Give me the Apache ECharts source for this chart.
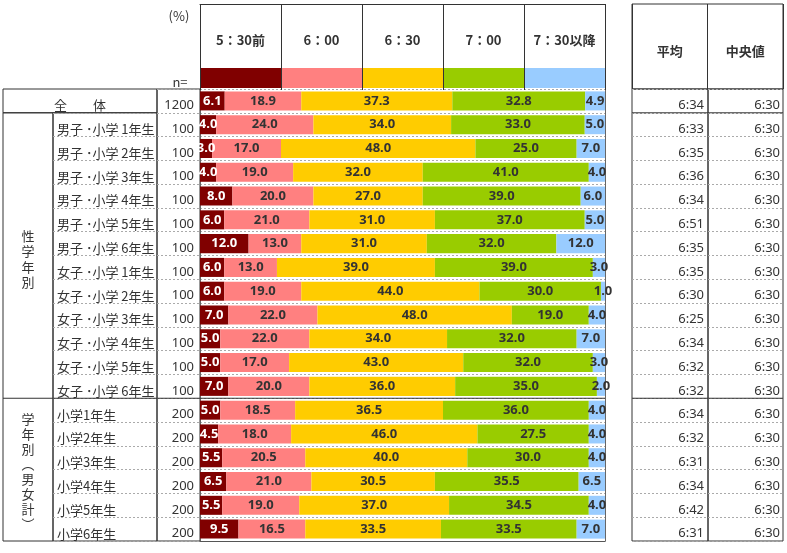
<!DOCTYPE html>
<html>
<head>
<meta charset="utf-8">
<script src="https://cdn.jsdelivr.net/npm/echarts@6/dist/echarts.min.js"></script>
<style>
html, body { margin: 0; padding: 0; background: #fff; }
#main { width: 787px; height: 553px; }
</style>
</head>
<body>
<div id="main"></div>
<script>
// 行ラベル・n・各時刻の割合(%)
var rowLabels = ['全　　体',
	'男子 ･小学 1年生', '男子 ･小学 2年生', '男子 ･小学 3年生', '男子 ･小学 4年生', '男子 ･小学 5年生', '男子 ･小学 6年生',
	'女子 ･小学 1年生', '女子 ･小学 2年生', '女子 ･小学 3年生', '女子 ･小学 4年生', '女子 ･小学 5年生', '女子 ･小学 6年生',
	'小学1年生', '小学2年生', '小学3年生', '小学4年生', '小学5年生', '小学6年生'];
var nCounts = [1200, 100, 100, 100, 100, 100, 100, 100, 100, 100, 100, 100, 100, 200, 200, 200, 200, 200, 200];
var timeCats = ['5：30前', '6：00', '6：30', '7：00', '7：30以降'];
var before530 = [6.1, 4.0, 3.0, 4.0, 8.0, 6.0, 12.0, 6.0, 6.0, 7.0, 5.0, 5.0, 7.0, 5.0, 4.5, 5.5, 6.5, 5.5, 9.5];
var at600 = [18.9, 24.0, 17.0, 19.0, 20.0, 21.0, 13.0, 13.0, 19.0, 22.0, 22.0, 17.0, 20.0, 18.5, 18.0, 20.5, 21.0, 19.0, 16.5];
var at630 = [37.3, 34.0, 48.0, 32.0, 27.0, 31.0, 31.0, 39.0, 44.0, 48.0, 34.0, 43.0, 36.0, 36.5, 46.0, 40.0, 30.5, 37.0, 33.5];
var at700 = [32.8, 33.0, 25.0, 41.0, 39.0, 37.0, 32.0, 39.0, 30.0, 19.0, 32.0, 32.0, 35.0, 36.0, 27.5, 30.0, 35.5, 34.5, 33.5];
var after730 = [4.9, 5.0, 7.0, 4.0, 6.0, 5.0, 12.0, 3.0, 1.0, 4.0, 7.0, 3.0, 2.0, 4.0, 4.0, 4.0, 6.5, 4.0, 7.0];
var statCats = ['平均', '中央値'];
var avgTimes = ['6:34', '6:33', '6:35', '6:36', '6:34', '6:51', '6:35', '6:35', '6:30', '6:25', '6:34', '6:32', '6:32', '6:34', '6:32', '6:31', '6:34', '6:42', '6:31'];
var medianTimes = ['6:30', '6:30', '6:30', '6:30', '6:30', '6:30', '6:30', '6:30', '6:30', '6:30', '6:30', '6:30', '6:30', '6:30', '6:30', '6:30', '6:30', '6:30', '6:30'];
var groupLabels = ['性\n学\n年\n別', '学\n年\n別\n︵\n男\n女\n計\n︶'];
var colors = ['#800000', '#FF8080', '#FFCC00', '#99CC00', '#99CCFF'];

var myChart = echarts.init(document.getElementById('main'));

var TOP = 89, BOTTOM = 541;
var ROWH = (BOTTOM - TOP) / rowLabels.length;
var CJK = '"Noto Sans CJK JP", sans-serif';
var LAT = '"Noto Sans", sans-serif';
var dash = { color: '#aaa', type: [2, 2], width: 1 };
var border = { show: true, borderColor: '#333', borderWidth: 1, backgroundColor: 'transparent' };

function grid(l, t, w, h, withBorder) {
	var g = { left: l, top: t, width: w, height: h, outerBoundsMode: 'none' };
	if (withBorder) {
		g = Object.assign({}, border, g);
	}
	return g;
}
function hiddenValue(i) {
	return { type: 'value', gridIndex: i, min: 0, max: 100, show: false };
}
// 表のセル用の軸ラベル（文字は行の中央より少し下に置く）
function cellLabel(opt) {
	return Object.assign({
		show: true, inside: true, interval: 0, color: '#333',
		fontFamily: CJK, fontSize: 13, verticalAlign: 'top', lineHeight: 9
	}, opt);
}

var bodyH = BOTTOM - TOP;
var grids = [
	grid(200, 4, 405, 86, false),                // 0 見出し（仕切り線は色帯の下まで）
	grid(200, TOP, 405, bodyH, false),           // 1 帯グラフ
	grid(3, TOP, 154, ROWH, true),               // 2 全体
	grid(3, TOP + ROWH, 50, bodyH - ROWH, true), // 3 区分
	grid(53, TOP + ROWH, 104, bodyH - ROWH, true), // 4 行ラベル
	grid(157, TOP, 43, bodyH, true),             // 5 n
	grid(632, 4, 151, TOP - 4, true),            // 6 平均/中央値 見出し
	grid(632, TOP, 76, bodyH, true),             // 7 平均
	grid(708, TOP, 75, bodyH, true)              // 8 中央値
];

var xAxes = [
	{
		type: 'category', gridIndex: 0, data: timeCats, position: 'bottom', z: 5,
		axisLine: { show: false }, axisTick: { show: false },
		axisLabel: { inside: true, margin: 50, verticalAlign: 'middle', interval: 0,
			fontFamily: CJK, fontSize: 13, fontWeight: 'bold', color: '#333' },
		splitLine: { show: true, interval: 0, lineStyle: { color: '#333' } }
	},
	{
		type: 'value', gridIndex: 1, min: 0, max: 100,
		axisLine: { show: true, lineStyle: { color: '#555' } },
		axisTick: { show: false }, axisLabel: { show: false }, splitLine: { show: false }
	},
	hiddenValue(2), hiddenValue(3), hiddenValue(4), hiddenValue(5),
	{
		type: 'category', gridIndex: 6, data: statCats, position: 'bottom',
		axisLine: { show: false }, axisTick: { show: false },
		axisLabel: { inside: true, margin: 38, verticalAlign: 'middle', interval: 0,
			fontFamily: CJK, fontSize: 13, fontWeight: 'bold', color: '#333' },
		splitLine: { show: true, interval: 0, lineStyle: { color: '#333' } }
	},
	hiddenValue(7), hiddenValue(8),
	{
		// 見出しの上枠
		type: 'category', gridIndex: 0, data: timeCats, position: 'top',
		axisLine: { show: true, lineStyle: { color: '#333' } }, axisTick: { show: false },
		axisLabel: { show: false }, splitLine: { show: false }
	}
];

var yAxes = [
	{ type: 'value', gridIndex: 0, show: false },
	{
		type: 'category', gridIndex: 1, data: rowLabels, inverse: true,
		axisLine: { show: true, lineStyle: { color: '#666' } }, axisTick: { show: false },
		axisLabel: { show: false }, splitLine: { show: true, interval: 0, lineStyle: dash }
	},
	{
		type: 'category', gridIndex: 1, data: rowLabels, inverse: true, position: 'right',
		axisLine: { show: true, lineStyle: { color: '#666' } }, axisTick: { show: false },
		axisLabel: { show: false }, splitLine: { show: false }
	},
	{
		type: 'category', gridIndex: 2, data: rowLabels.slice(0, 1),
		axisLine: { show: false }, axisTick: { show: false },
		axisLabel: cellLabel({ margin: 77, align: 'center' })
	},
	{ type: 'category', gridIndex: 3, data: rowLabels.slice(1), inverse: true, show: false },
	{
		type: 'category', gridIndex: 4, data: rowLabels.slice(1), inverse: true,
		axisLine: { show: false }, axisTick: { show: false },
		axisLabel: cellLabel({ margin: 4, align: 'left' }),
		splitLine: { show: true, interval: 0, lineStyle: dash }
	},
	{
		type: 'category', gridIndex: 5, data: rowLabels, inverse: true, position: 'right',
		axisLine: { show: false }, axisTick: { show: false },
		axisLabel: cellLabel({ margin: 6, fontFamily: LAT, formatter: function(v, i) { return String(nCounts[i]); } }),
		splitLine: { show: true, interval: 0, lineStyle: dash }
	},
	{ type: 'value', gridIndex: 6, show: false },
	{
		type: 'category', gridIndex: 7, data: rowLabels, inverse: true, position: 'right',
		axisLine: { show: false }, axisTick: { show: false },
		axisLabel: cellLabel({ margin: 4, fontFamily: LAT, formatter: function(v, i) { return avgTimes[i]; } }),
		splitLine: { show: true, interval: 0, lineStyle: dash }
	},
	{
		type: 'category', gridIndex: 8, data: rowLabels, inverse: true, position: 'right',
		axisLine: { show: false }, axisTick: { show: false },
		axisLabel: cellLabel({ margin: 3, fontFamily: LAT, formatter: function(v, i) { return medianTimes[i]; } }),
		splitLine: { show: true, interval: 0, lineStyle: dash }
	}
];

var seriesData = [before530, at600, at630, at700, after730];
var series = seriesData.map(function(d, k) {
	return {
		name: timeCats[k], type: 'bar', stack: 'total',
		xAxisIndex: 1, yAxisIndex: 1, barWidth: '80%',
		itemStyle: { color: colors[k] },
		silent: true, emphasis: { disabled: true },
		label: {
			show: true, position: 'inside',
			color: k === 0 ? '#fff' : '#333',
			fontFamily: LAT, fontSize: 13, fontWeight: 'bold',
			textBorderWidth: 0,
			formatter: function(p) { return p.value.toFixed(1); }
		},
		data: d
	};
});

var y1 = TOP + ROWH, y13 = TOP + 13 * ROWH;
function hline(x1, x2, y, color) {
	return { type: 'line', z: 100, shape: { x1: x1, y1: y, x2: x2, y2: y }, style: { stroke: color || '#333', lineWidth: 1 } };
}
function txt(x, y, s, extra) {
	return { type: 'text', z: 100, style: Object.assign({ x: x, y: y, text: s, fill: '#333',
		fontFamily: CJK, fontSize: 13, align: 'center', verticalAlign: 'middle' }, extra) };
}

var Option = {
	animation: false,
	backgroundColor: '#fff',
	grid: grids,
	xAxis: xAxes,
	yAxis: yAxes,
	legend: {
		left: 200, top: 68, padding: 0, z: 1,
		itemWidth: 81, itemHeight: 20, itemGap: 0,
		icon: 'rect', selectedMode: false,
		formatter: function() { return ''; },
		data: timeCats
	},
	graphic: [
		txt(179, 16, '(%)'),
		txt(180, 82, 'n='),
		txt(28, 259, groupLabels[0], { lineHeight: 15.3 }),
		txt(28, 472, groupLabels[1], { lineHeight: 15 }),
		hline(632, 783, y1),
		hline(3, 605, y13),
		hline(632, 783, y13)
	],
	series: series
};

myChart.setOption(Option);
</script>
</body>
</html>
